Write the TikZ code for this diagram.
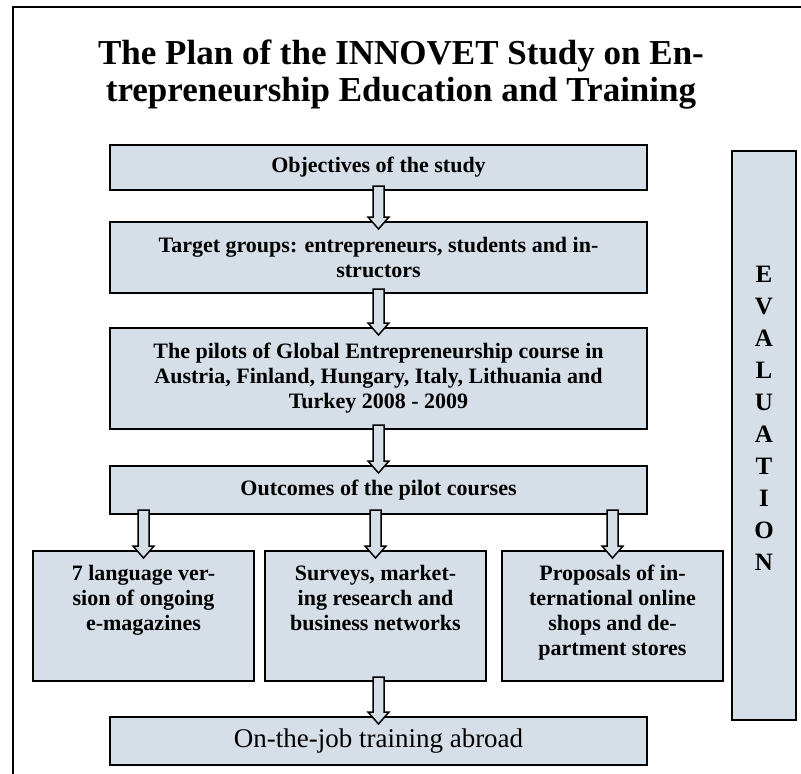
\documentclass[tikz,border=0pt]{standalone}
\usepackage{fontspec}
\setmainfont{Liberation Serif}
\usetikzlibrary{positioning,calc}

\definecolor{boxfill}{RGB}{214,223,232}

% text set at the top of a box of fixed height
\newcommand{\toptext}[4]{\parbox[c][#1][t]{#2}{\centering\vspace*{#3}#4}}

% block arrow from one box down into the next
\newcommand{\flowarrow}[2]{%
  \draw[blockarrow] let \p1=($(#2.north |- #1.south)+(0,-5)$), \p2=($(#2.north)+(0,8)$) in
    (\x1-5.5pt,\y1) -- (\x1+5.5pt,\y1) -- (\x1+5.5pt,\y2+12pt) -- (\x1+10.5pt,\y2+12pt)
    -- (\x1,\y2) -- (\x1-10.5pt,\y2+12pt) -- (\x1-5.5pt,\y2+12pt) -- cycle;}

\tikzset{
  planbox/.style={draw, line width=2pt, fill=boxfill, align=center, inner sep=4pt,
    minimum width=537pt, font=\bfseries\fontsize{22}{25}\selectfont},
  lowbox/.style={draw, line width=2pt, fill=boxfill, inner sep=0pt,
    minimum width=221pt, minimum height=130pt, font=\bfseries\fontsize{22}{25}\selectfont},
  evalbox/.style={draw, line width=2pt, fill=boxfill, inner sep=0pt,
    minimum width=64pt, minimum height=569pt, font=\bfseries\fontsize{25}{32}\selectfont},
  blockarrow/.style={draw, line width=1.5pt, fill=boxfill, line join=miter},
}

\begin{document}
\begin{tikzpicture}[x=1pt, y=-1pt]
\useasboundingbox (0,0) rectangle (801,774);
\draw[line width=1.8pt] (13,774) -- (13,7) -- (801,7);

\node (title) at (401,75) [align=center, inner sep=0pt, font=\bfseries\fontsize{35}{37}\selectfont]
  {The Plan of the INNOVET Study on En-\\trepreneurship Education and Training};

\node (objectives) at (378.5,167.5) [planbox, minimum height=45pt] {Objectives of the study};
\node (target) [planbox, minimum height=71pt, below=30pt of objectives]
  {Target groups: entrepreneurs, students and in-\\structors};
\node (pilots) [planbox, minimum height=101pt, below=33pt of target]
  {The pilots of Global Entrepreneurship course in\\Austria, Finland, Hungary, Italy, Lithuania and\\Turkey 2008 - 2009};
\node (outcomes) [planbox, minimum height=48pt, below=35pt of pilots] {Outcomes of the pilot courses};

\node (surveys) [lowbox, below=35pt of outcomes, xshift=-3pt]
  {\toptext{130pt}{205pt}{14pt}{Surveys, market-\\ing research and\\business networks}};
\node (magazines) [lowbox, left=9pt of surveys]
  {\toptext{130pt}{205pt}{14pt}{7 language ver-\\sion of ongoing\\e-magazines}};
\node (proposals) [lowbox, right=14pt of surveys]
  {\toptext{130pt}{205pt}{14pt}{Proposals of in-\\ternational online\\shops and de-\\partment stores}};

\node (training) [planbox, minimum height=48pt, below=34pt of surveys, xshift=3pt,
  font=\fontsize{27}{30}\selectfont] {On-the-job training abroad};

\node (evaluation) at (764,435.5) [evalbox]
  {\toptext{569pt}{60pt}{115pt}{E\\V\\A\\L\\U\\A\\T\\I\\O\\N}};

\flowarrow{objectives}{target}
\flowarrow{target}{pilots}
\flowarrow{pilots}{outcomes}
\flowarrow{outcomes}{magazines}
\flowarrow{outcomes}{surveys}
\flowarrow{outcomes}{proposals}
\flowarrow{surveys}{training}
\end{tikzpicture}
\end{document}
